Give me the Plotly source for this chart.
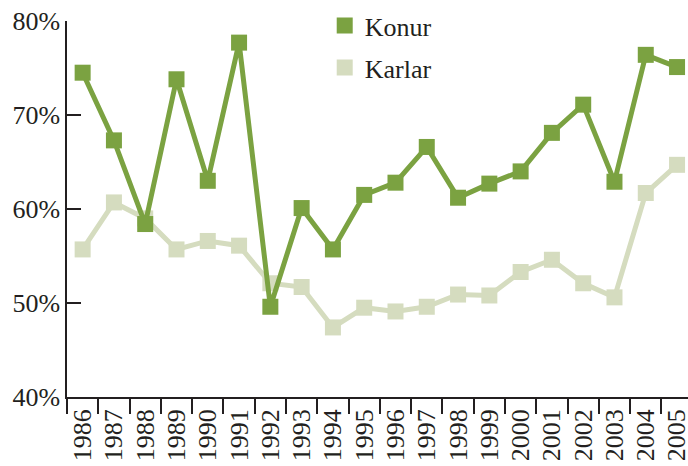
import plotly.graph_objects as go

years = [str(y) for y in range(1986, 2006)]
konur = [74.5, 67.3, 58.4, 73.8, 63.0, 77.7, 49.6, 60.1, 55.7, 61.5,
         62.8, 66.6, 61.2, 62.7, 64.0, 68.1, 71.1, 62.9, 76.4, 75.1]
karlar = [55.7, 60.7, 59.0, 55.7, 56.6, 56.1, 52.1, 51.7, 47.4, 49.5,
          49.1, 49.6, 50.9, 50.8, 53.3, 54.6, 52.1, 50.6, 61.7, 64.7]
y_ticks = [40, 50, 60, 70, 80]
y_labels = ["40%", "50%", "60%", "70%", "80%"]

green = "#7ba241"
light = "#d5dcbf"
ink = "#231f20"
FONT = "Liberation Serif"
FS = 26

fig = go.Figure()
fig.add_trace(go.Scatter(x=years, y=karlar, mode="lines+markers", showlegend=False,
                         line=dict(color=light, width=5),
                         marker=dict(symbol="square", size=16, color=light)))
fig.add_trace(go.Scatter(x=years, y=konur, mode="lines+markers", showlegend=False,
                         line=dict(color=green, width=5),
                         marker=dict(symbol="square", size=16, color=green)))
fig.add_trace(go.Scatter(x=[None], y=[None], mode="markers", name="Konur",
                         legendgroup="a",
                         marker=dict(symbol="square", size=18, color=green)))
fig.add_trace(go.Scatter(x=[None], y=[None], mode="markers", name="Karlar",
                         legendgroup="b",
                         marker=dict(symbol="square", size=18, color=light)))

fig.update_layout(
    width=688, height=466,
    margin=dict(l=67, r=0, t=21, b=69),
    paper_bgcolor="white", plot_bgcolor="white",
    font=dict(family=FONT, size=FS, color=ink),
    legend=dict(x=0.415, y=1.05, xanchor="left", yanchor="top",
                bgcolor="rgba(0,0,0,0)", font=dict(size=FS, family=FONT, color=ink),
                traceorder="grouped", tracegroupgap=5, itemsizing="trace"),
    xaxis=dict(type="category", range=[-0.5, 19.35], showgrid=False,
               automargin=False,
               showline=True, linecolor=ink, linewidth=1.5,
               ticks="outside", ticklen=15, tickwidth=1.5, tickcolor=ink,
               tickson="boundaries", tickangle=-90,
               tickfont=dict(size=FS, family=FONT, color=ink)),
    yaxis=dict(range=[40, 80], showgrid=False, zeroline=False,
               automargin=False,
               showline=True, linecolor=ink, linewidth=1.5,
               ticks="inside", ticklen=14, tickwidth=1.5, tickcolor=ink,
               tickvals=y_ticks, ticktext=y_labels,
               tickfont=dict(size=FS, family=FONT, color=ink)),
)
fig.write_html("out.html", config={"displayModeBar": False},
               post_script="document.body.style.margin='0';")
